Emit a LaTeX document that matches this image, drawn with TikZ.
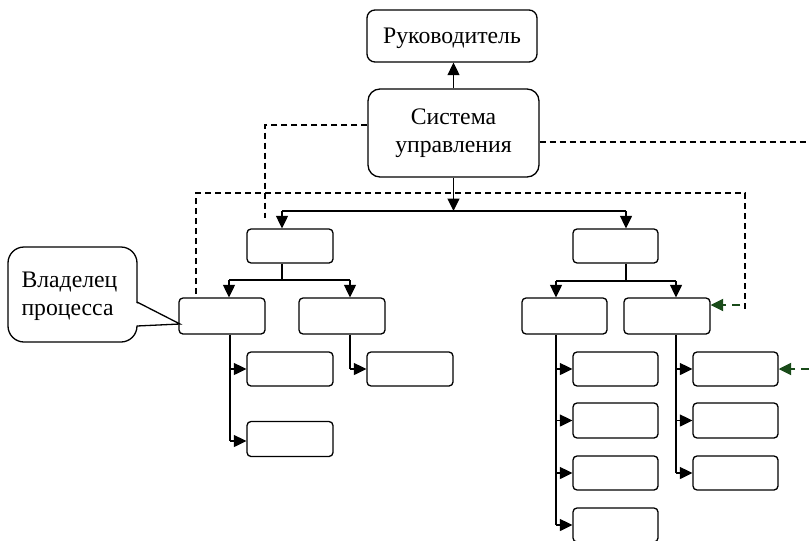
\documentclass[tikz,border=0pt]{standalone}
\usepackage{fontspec}
\setmainfont{Liberation Serif}
\usetikzlibrary{arrows.meta}
\definecolor{dkgreen}{RGB}{25,75,25}
\begin{document}
\begin{tikzpicture}[x=1pt,y=-1pt,
 box/.style={draw, line width=1.3pt, rounded corners=4pt, minimum width=86pt, minimum height=34pt, inner sep=0pt},
 conn/.style={line width=1.4pt},
 arr/.style={line width=1.4pt, -{Triangle[length=12.5pt,width=12pt]}},
 dsh/.style={line width=1.4pt, dash pattern=on 6pt off 4pt},
 gdsh/.style={line width=2pt, dash pattern=on 8pt off 6pt, draw=dkgreen, -{Triangle[length=12.5pt,width=12pt]}},
 every node/.style={font=\fontsize{23.7}{28}\selectfont}]
\useasboundingbox (0,0) rectangle (809,541);
% main boxes
\node[box, rounded corners=8pt, minimum width=170pt, minimum height=52pt, text depth=0pt] (ruk) at (452,36) {Руководитель};
\node[box, rounded corners=12pt, minimum width=171pt, minimum height=88pt, align=center] (sys) at (453.5,133) {Система\\управления};
% left branch
\node[box] (A) at (290,246) {};
\node[box, minimum height=36pt] (B1) at (222,316) {};
\node[box, minimum height=36pt] (B2) at (342,316) {};
\node[box] (C1) at (290,369) {};
\node[box, minimum height=35pt] (C2) at (290,439) {};
\node[box] (D1) at (410,369) {};
% right branch
\node[box, minimum width=85pt] (E) at (615.5,246) {};
\node[box, minimum width=85pt, minimum height=36pt] (F1) at (564.5,316) {};
\node[box, minimum height=36pt] (F2) at (667,316) {};
\node[box, minimum width=85pt] (G1) at (615.5,369) {};
\node[box, minimum width=85pt, minimum height=35pt] (G2) at (615.5,420.5) {};
\node[box, minimum width=85pt] (G3) at (615.5,473) {};
\node[box, minimum width=85pt] (G4) at (615.5,525) {};
\node[box, minimum width=85pt] (H1) at (735.5,369) {};
\node[box, minimum width=85pt, minimum height=35pt] (H2) at (735.5,420.5) {};
\node[box, minimum width=85pt] (H3) at (735.5,473) {};
% callout
\node[draw, line width=1.3pt, rounded corners=16pt, minimum width=129pt, minimum height=95pt, inner sep=0pt] (own) at (72.5,294.5) {};
\fill[white] (135.2,302.6) -- (179,324) -- (135.2,325.6) -- cycle;
\coordinate (tip) at (180,324);
\draw[line width=1.3pt] (137,302) -- (tip) -- (137,326);
\node[anchor=west, align=left] (ownt) at (18,296) {Владелец\\процесса};
% top connectors
\draw[arr] (sys.north) -- (sys.north |- ruk.south);
\coordinate (bus) at (453.5,211);
\draw[arr] (sys.south) -- (bus);
\coordinate (busL) at (282,211);
\coordinate (busR) at (626,211);
\draw[conn] (busL) -- (busR);
\draw[arr] (busL) -- (busL |- A.north);
\draw[arr] (busR) -- (busR |- E.north);
% left subtree
\coordinate (aJ) at (282,280);
\coordinate (aL) at (229,280);
\coordinate (aR) at (350,280);
\draw[conn] (busL |- A.south) -- (aJ);
\draw[conn] (aL) -- (aR);
\draw[arr] (aL) -- (aL |- B1.north);
\draw[arr] (aR) -- (aR |- B2.north);
\coordinate (b1t) at (230,441);
\draw[conn] (b1t |- B1.south) -- (b1t);
\draw[arr] (b1t |- C1.west) -- (C1.west);
\draw[arr] (b1t) -- (b1t -| C2.west);
\coordinate (b2t) at (350,369);
\draw[conn] (b2t |- B2.south) -- (b2t);
\draw[arr] (b2t) -- (D1.west);
% right subtree
\coordinate (eJ) at (626,281);
\coordinate (eL) at (556,281);
\coordinate (eR) at (676,281);
\draw[conn] (busR |- E.south) -- (eJ);
\draw[conn] (eL) -- (eR);
\draw[arr] (eL) -- (eL |- F1.north);
\draw[arr] (eR) -- (eR |- F2.north);
\coordinate (f1t) at (556,525);
\draw[conn] (f1t |- F1.south) -- (f1t);
\draw[arr] (f1t |- G1.west) -- (G1.west);
\draw[arr] (f1t |- G2.west) -- (G2.west);
\draw[arr] (f1t |- G3.west) -- (G3.west);
\draw[arr] (f1t) -- (G4.west);
\coordinate (f2t) at (676,473);
\draw[conn] (f2t |- F2.south) -- (f2t);
\draw[arr] (f2t |- H1.west) -- (H1.west);
\draw[arr] (f2t |- H2.west) -- (H2.west);
\draw[arr] (f2t) -- (H3.west);
% dashed lines
\coordinate (d1) at (265,218);
\draw[dsh] (sys.west |- 0,125) -- (265,125) -- (d1);
\coordinate (d2) at (196,294);
\coordinate (d3) at (745,310);
\draw[dsh] (d2) -- (196,193) -- (745,193) -- (d3);
\coordinate (d4) at (809,142);
\draw[dsh] (sys.east |- d4) -- (d4);
\coordinate (g1) at (740,305);
\draw[gdsh] (g1) -- (F2.east |- g1);
\coordinate (g2) at (809,369);
\draw[gdsh] (g2) -- (H1.east);
\end{tikzpicture}
\end{document}
